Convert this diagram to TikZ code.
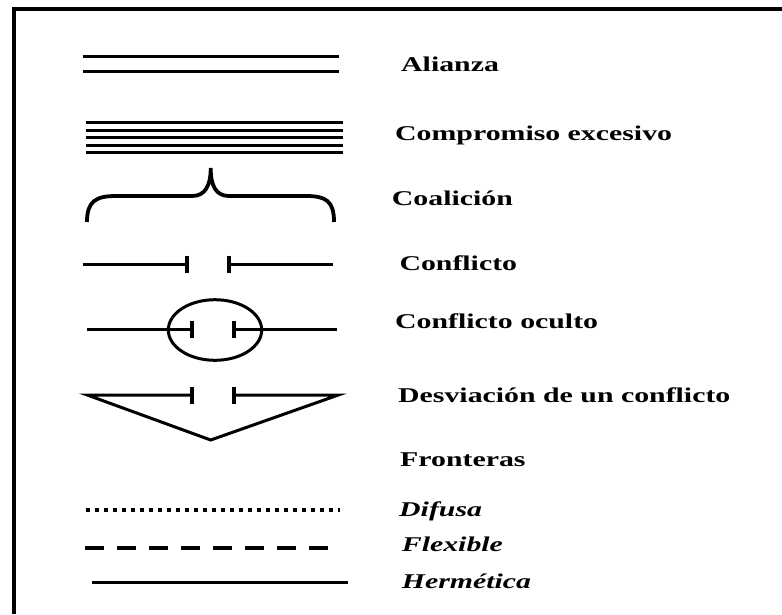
\documentclass[tikz,border=0pt]{standalone}
\usepackage{fontspec}
\setmainfont{Liberation Serif}[FakeStretch=1.42]
\begin{document}
\begin{tikzpicture}[x=1pt,y=-1pt,
    symb/.style={line width=3pt},
    bar/.style={line width=3.8pt},
    lbl/.style={anchor=base west, inner sep=0pt, font=\fontsize{21}{25}\selectfont\bfseries},
    ilbl/.style={lbl, font=\fontsize{21}{25}\selectfont\bfseries\itshape}]
    \useasboundingbox (0,0) rectangle (782,614);

    % Frame (only top and left edges)
    \draw[line width=4pt] (13.8,614) -- (13.8,8.7) -- (782,8.7);

    % Alianza
    \foreach \y in {56.7,71} {
        \draw[symb] (82.7,\y) -- (339,\y);
    }

    % Compromiso excesivo
    \foreach \y in {122.7,130,137,145.3,152.7} {
        \draw[symb] (86,\y) -- (343,\y);
    }

    % Coalicion
    \draw[line width=3.8pt] (87,222) .. controls (87,201) and (96,196) .. (116,196)
        -- (192,196) .. controls (205,196) and (210.7,186) .. (210.7,168)
        .. controls (210.7,186) and (216,196) .. (229,196)
        -- (306,196) .. controls (326,196) and (334,201) .. (334,222);

    % Conflicto
    \draw[symb] (82.7,264.3) -- (187,264.3);
    \draw[symb] (229.3,264.3) -- (333.3,264.3);

    % Conflicto oculto
    \draw[symb] (215,330) ellipse (46.7pt and 30.3pt);
    \draw[symb] (87.3,329) -- (191.7,329);
    \draw[symb] (234,329) -- (337.3,329);

    % Desviacion de un conflicto
    \draw[symb] (192.3,395) -- (87.3,395) -- (210.7,440) -- (338.3,395) -- (234,395);

    % Conflict bars
    \foreach \bx/\by in {187/264.3, 229.3/264.3, 191.7/329, 234/329, 192.3/395, 234/395} {
        \draw[bar] (\bx,\by-8.5) -- (\bx,\by+8.5);
    }

    % Fronteras
    \draw[line width=3.2pt, dash pattern=on 4pt off 5pt] (85.5,510) -- (340,510);
    \draw[line width=3.2pt, dash pattern=on 18.3pt off 13.7pt] (85.3,548) -- (328,548);
    \draw[symb] (91.7,582.3) -- (348.3,582.3);

    % Labels
    \node[lbl] (alianza) at (401,71) {Alianza};
    \node[lbl] (compromiso) at (395,140) {Compromiso excesivo};
    \node[lbl] (coalicion) at (391.7,205) {Coalición};
    \node[lbl] (conflicto) at (399.3,270) {Conflicto};
    \node[lbl] (oculto) at (395,328.3) {Conflicto oculto};
    \node[lbl] (desviacion) at (398,402.3) {Desviación de un conflicto};
    \node[lbl] (fronteras) at (400,466.7) {Fronteras};
    \node[ilbl] (difusa) at (399,516.7) {Difusa};
    \node[ilbl] (flexible) at (401.7,551.7) {Flexible};
    \node[ilbl] (hermetica) at (401.7,588.3) {Hermética};
\end{tikzpicture}
\end{document}
